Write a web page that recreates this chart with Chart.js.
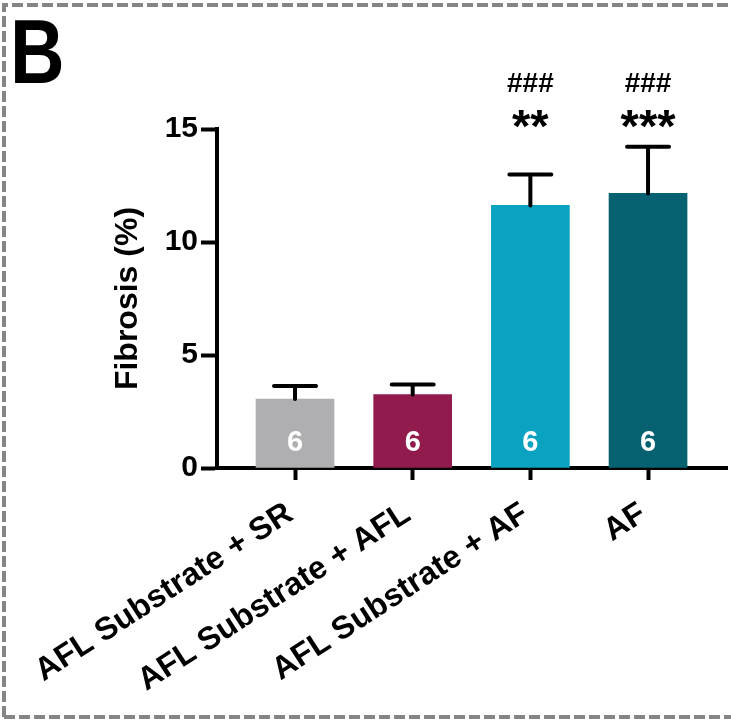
<!DOCTYPE html>
<html>
<head>
<meta charset="utf-8">
<script src="https://cdn.jsdelivr.net/npm/chart.js@4.4.1/dist/chart.umd.min.js"></script>
<style>
  html, body { margin: 0; padding: 0; background: #ffffff; }
  #wrap { position: relative; width: 731px; height: 721px; }
</style>
</head>
<body>
<div id="wrap"><canvas id="c" width="731" height="721"></canvas></div>
<script>
// ---- data ----
const categories = ['AFL Substrate + SR', 'AFL Substrate + AFL', 'AFL Substrate + AF', 'AF'];
const meanFibrosis = [3.05, 3.25, 11.62, 12.15];
const semFibrosis = [0.58, 0.45, 1.37, 2.07];
const sampleSizes = ['6', '6', '6', '6'];
const starMarks = ['', '', '**', '***'];
const hashMarks = ['', '', '###', '###'];
const yTickValues = [0, 5, 10, 15];
const panelLetter = 'B';
const yTitle = 'Fibrosis (%)';

const FONT = "'Liberation Sans', Arial, Helvetica, sans-serif";

const barPoints = categories.map((c, i) => ({ x: i, y: meanFibrosis[i] }));

const decorPlugin = {
  id: 'decor',
  beforeDraw(chart) {
    const ctx = chart.ctx;
    ctx.save();
    ctx.fillStyle = '#ffffff';
    ctx.fillRect(0, 0, chart.width, chart.height);
    // dashed panel border (top, left, bottom)
    ctx.strokeStyle = '#858585';
    ctx.lineWidth = 4;
    ctx.setLineDash([11, 4]);
    ctx.beginPath();
    ctx.moveTo(4, 717); ctx.lineTo(4, 5); ctx.lineTo(731, 5);
    ctx.moveTo(4, 717); ctx.lineTo(731, 717);
    ctx.stroke();
    ctx.setLineDash([]);
    // panel letter
    ctx.fillStyle = '#000';
    ctx.font = 'bold 90px ' + FONT;
    ctx.textAlign = 'left';
    ctx.textBaseline = 'alphabetic';
    ctx.translate(10, 83);
    ctx.scale(0.84, 1);
    ctx.fillText(panelLetter, 0, 0);
    ctx.restore();
  },
  afterDatasetsDraw(chart) {
    const ctx = chart.ctx;
    const meta = chart.getDatasetMeta(0);
    const ys = chart.scales.y;
    const top = chart.chartArea.top;
    ctx.save();
    meta.data.forEach((bar, i) => {
      const x = bar.x;
      const yTop = ys.getPixelForValue(meanFibrosis[i]);
      const yErr = ys.getPixelForValue(meanFibrosis[i] + semFibrosis[i]);
      // error bar (upper only)
      ctx.strokeStyle = '#000';
      ctx.lineWidth = 4;
      ctx.lineCap = 'round';
      ctx.beginPath();
      ctx.moveTo(x, yTop);
      ctx.lineTo(x, yErr);
      ctx.moveTo(x - 21, yErr);
      ctx.lineTo(x + 21, yErr);
      ctx.stroke();
      // n inside bar
      ctx.fillStyle = '#ffffff';
      ctx.font = 'bold 29px ' + FONT;
      ctx.textAlign = 'center';
      ctx.textBaseline = 'middle';
      ctx.fillText(sampleSizes[i], x, ys.getPixelForValue(0) - 25);
      // significance marks
      ctx.fillStyle = '#000';
      if (starMarks[i]) {
        ctx.font = 'bold 47px ' + FONT;
        ctx.textBaseline = 'alphabetic';
        ctx.fillText(starMarks[i], x, top + 13);
      }
      if (hashMarks[i]) {
        ctx.font = 'bold 28px ' + FONT;
        ctx.textBaseline = 'middle';
        ctx.fillText(hashMarks[i], x, top - 45);
      }
    });
    ctx.restore();
  }
};

new Chart(document.getElementById('c'), {
  type: 'bar',
  data: {
    datasets: [{
      data: barPoints,
      backgroundColor: ['#afafb1', '#921b4e', '#0aa2c1', '#066171'],
      borderWidth: 0,
      barThickness: 78
    }]
  },
  options: {
    responsive: false,
    animation: false,
    devicePixelRatio: 1,
    layout: { padding: { top: 129, left: 105, right: 4, bottom: 0 } },
    plugins: { legend: { display: false }, tooltip: { enabled: false } },
    scales: {
      x: {
        type: 'linear',
        offset: false,
        min: -0.663,
        max: 3.671,
        afterBuildTicks(scale) {
          scale.ticks = categories.map((c, i) => ({ value: i }));
        },
        afterFit(scale) {
          scale.height = 721 - 468;
          scale.paddingLeft = 0;
          scale.paddingRight = 0;
        },
        ticks: {
          callback: (v) => categories[v],
          minRotation: 33,
          maxRotation: 33,
          autoSkip: false,
          color: '#000',
          padding: 15,
          labelOffset: -5,
          font: { family: FONT, size: 32, weight: 'bold' }
        },
        grid: {
          offset: false,
          drawOnChartArea: false,
          drawTicks: true,
          tickLength: 12,
          tickWidth: 4,
          tickColor: '#000'
        },
        border: { display: true, color: '#000', width: 4 }
      },
      y: {
        min: 0,
        max: 15,
        afterBuildTicks(scale) {
          scale.ticks = yTickValues.map(v => ({ value: v }));
        },
        afterFit(scale) {
          scale.width = 217 - 105;
        },
        ticks: {
          color: '#000',
          padding: 3,
          font: { family: FONT, size: 30, weight: 'bold' }
        },
        grid: {
          drawOnChartArea: false,
          drawTicks: true,
          tickLength: 16,
          tickWidth: 4,
          tickColor: '#000'
        },
        border: { display: true, color: '#000', width: 4 },
        title: {
          display: true,
          text: yTitle,
          color: '#000',
          padding: { top: 4, bottom: 4 },
          font: { family: FONT, size: 32, weight: 'bold' }
        }
      }
    }
  },
  plugins: [decorPlugin]
});
</script>
</body>
</html>
